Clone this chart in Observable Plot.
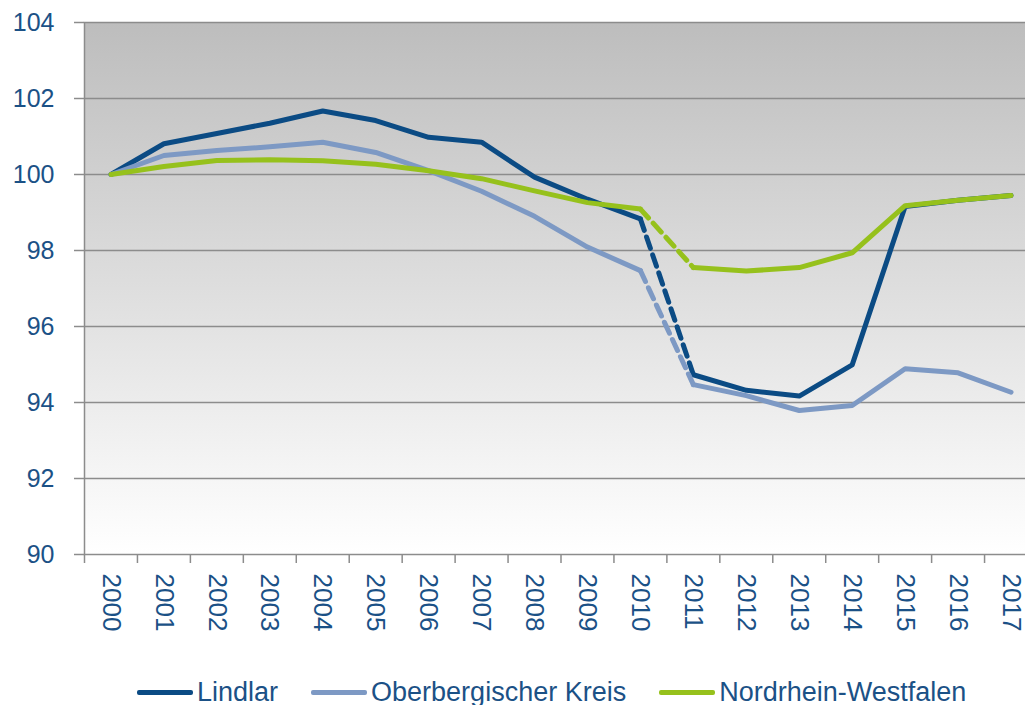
<!DOCTYPE html>
<html>
<head>
<meta charset="utf-8">
<script src="https://cdn.jsdelivr.net/npm/d3@7"></script>
<script src="https://cdn.jsdelivr.net/npm/@observablehq/plot@0.6"></script>
<style>
  html, body { margin: 0; padding: 0; overflow: hidden; background: #fff; }
  #chart svg { display: block; }
  .legend { display: flex; align-items: center; padding-left: 137px; height: 34px;
            font-family: "Liberation Sans", Arial, sans-serif; font-size: 27px; color: #1b5186; line-height: 34px; }
  .legend .item { display: flex; align-items: center; margin-right: 33px; }
  .legend .sw { width: 56px; height: 5px; border-radius: 2px; margin-right: 4px; }
</style>
</head>
<body>
<div id="chart"></div>
<div class="legend" id="legend"></div>
<script>
const years = [2000, 2001, 2002, 2003, 2004, 2005, 2006, 2007, 2008, 2009, 2010, 2011, 2012, 2013, 2014, 2015, 2016, 2017];
const seriesNames = ["Lindlar", "Oberbergischer Kreis", "Nordrhein-Westfalen"];
const lindlar  = [100, 100.81, 101.08, 101.35, 101.67, 101.42, 100.98, 100.85, 99.93, 99.35, 98.83, 94.73, 94.32, 94.17, 94.99, 99.16, 99.32, 99.45];
const oberberg = [100, 100.50, 100.63, 100.73, 100.85, 100.58, 100.10, 99.56, 98.90, 98.09, 97.47, 94.47, 94.18, 93.79, 93.92, 94.89, 94.78, 94.27];
const nrw      = [100, 100.21, 100.37, 100.39, 100.36, 100.27, 100.10, 99.89, 99.57, 99.26, 99.09, 97.55, 97.46, 97.55, 97.94, 99.18, 99.32, 99.45];
const breakYears = [2010, 2011];
const yTicks = [90, 92, 94, 96, 98, 100, 102, 104];
const colors = ["#0b4b84", "#7d99c4", "#96c11c"];

const valuesBySeries = [lindlar, oberberg, nrw];
const data = [];
seriesNames.forEach((s, i) => {
  years.forEach((yr, j) => {
    data.push({series: s, year: yr, value: valuesBySeries[i][j],
               part: yr <= breakYears[0] ? "a" : "b"});
  });
});
const dashed = data.filter(d => breakYears.includes(d.year));
const boundaries = years.map(y => y - 0.5).concat([years[years.length - 1] + 0.5]);

const textColor = "#1b5186";
const gridColor = "#8c8c8c";

const chart = Plot.plot({
  width: 1025,
  height: 675,
  marginLeft: 84,
  marginTop: 22,
  marginBottom: 121,
  marginRight: -12,
  style: {fontFamily: "Liberation Sans, Arial, sans-serif", fontSize: "25px", color: textColor, background: "transparent", overflow: "visible"},
  x: {domain: [years[0] - 0.5, years[years.length - 1] + 0.5], label: null},
  y: {domain: [yTicks[0], yTicks[yTicks.length - 1]], label: null},
  color: {domain: seriesNames, range: colors},
  marks: [
    Plot.frame({fill: "#cccccc", stroke: gridColor, strokeWidth: 1.5}),
    Plot.ruleY(yTicks.slice(1, -1), {stroke: gridColor, strokeWidth: 1.5}),
    Plot.axisY({ticks: yTicks, tickSize: 10, tickPadding: 20, fontSize: 25, stroke: gridColor, strokeWidth: 1.5, label: null, tickFormat: d => String(d)}),
    Plot.axisX({ticks: years, tickSize: 0, tickPadding: 19, tickRotate: 90, fontSize: 26, label: null, tickFormat: d => String(d)}),
    Plot.axisX({ticks: boundaries, tickSize: 9, stroke: gridColor, strokeWidth: 1.5, label: null, tickFormat: () => ""}),
    Plot.line(data, {x: "year", y: "value", z: d => d.series + d.part, stroke: "series", strokeWidth: 5, strokeLinejoin: "round"}),
    Plot.line(dashed, {x: "year", y: "value", z: "series", stroke: "series", strokeWidth: 5, strokeDasharray: "12,7"})
  ]
});

// gradient background for plot area
const svgSel = d3.select(chart);
const grad = svgSel.insert("defs", ":first-child").append("linearGradient")
  .attr("id", "bggrad").attr("x1", 0).attr("y1", 0).attr("x2", 0).attr("y2", 1);
grad.append("stop").attr("offset", "0").attr("stop-color", "#bdbdbd");
grad.append("stop").attr("offset", "1").attr("stop-color", "#ffffff");
let f = chart.querySelector('[aria-label="frame"]');
if (f) {
  const r = f.tagName.toLowerCase() === "rect" ? f : f.querySelector("rect");
  if (r) r.setAttribute("fill", "url(#bggrad)");
}
chart.querySelectorAll('[aria-label="y-axis tick"], [aria-label="x-axis tick"]').forEach(g => {
  g.setAttribute("stroke", gridColor);
});
chart.querySelectorAll('[aria-label="y-axis tick label"], [aria-label="x-axis tick label"]').forEach(g => {
  g.setAttribute("fill", textColor);
});
document.getElementById("chart").appendChild(chart);

// legend
const legend = document.getElementById("legend");
seriesNames.forEach((s, i) => {
  const item = document.createElement("div");
  item.className = "item";
  const sw = document.createElement("div");
  sw.className = "sw";
  sw.style.background = colors[i];
  const label = document.createElement("span");
  label.textContent = s;
  item.appendChild(sw);
  item.appendChild(label);
  legend.appendChild(item);
});
</script>
</body>
</html>
